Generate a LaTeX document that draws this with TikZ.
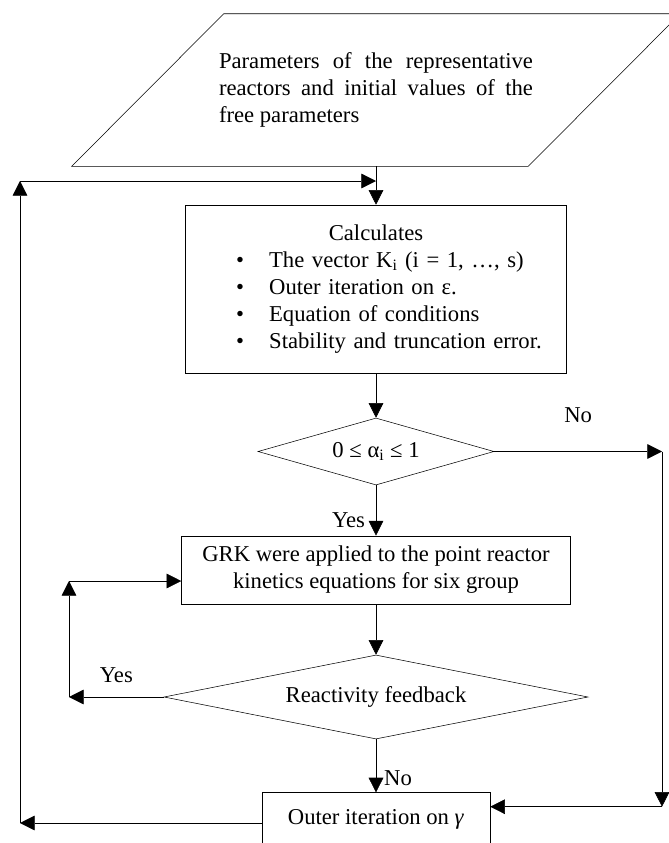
\documentclass[tikz,border=0pt]{standalone}
\usepackage{fontspec}
\setmainfont{Liberation Serif}
\usepackage{tikz}
\usetikzlibrary{shapes.geometric, arrows.meta, positioning}
\tikzset{
x=0.75pt, y=-0.75pt, % one unit is one pixel of the sketch, y grows downwards
->, % makes the connectors directed
>={Triangle[length=11pt,width=11pt]}, % filled arrow heads
line width=0.75pt,
font=\fontsize{17}{20.25}\selectfont, % the same size for every text
process/.style={draw, rectangle, inner sep=0pt, align=center}, % plain boxes
decision/.style={draw, diamond, inner sep=0pt}, % yes/no tests
datain/.style={rectangle, inner sep=0pt, minimum width=342pt, minimum height=114pt}, % input data
}
\newcommand{\calcitem}[1]{\hspace*{38pt}\makebox[24.75pt][l]{\textbullet}#1}

\begin{document}
\begin{tikzpicture}
  \useasboundingbox (0,0) rectangle (668,843);

  \node[datain, text width=235.5pt, align=justify] (params) at (376,90) {Parameters of the representative reactors and initial values of the free parameters};
  \draw[-] ([xshift=-57pt]params.south west) -- ([xshift=57pt]params.north west)
    -- ([xshift=57pt]params.north east) -- ([xshift=-57pt]params.south east) -- cycle;

  \node[process, text width=285.75pt, minimum height=126pt, align=left] (calc) at (376,289) {\makebox[\linewidth]{Calculates}\\
    \calcitem{The vector K\textsubscript{i} (i = 1, …, s)}\\
    \calcitem{Outer iteration on ε.}\\
    \calcitem{Equation of conditions}\\
    \calcitem{Stability and truncation error.}};
  \node[decision, aspect=3.5, minimum width=177pt, minimum height=50.25pt] (range) at (376,451.5) {0 ≤ α\textsubscript{i} ≤ 1};
  \node[process, minimum width=291.75pt, minimum height=51.25pt] (grk) at (376,570) {GRK were applied to the point reactor\\kinetics equations for six group};
  \node[decision, aspect=5, minimum width=318pt, minimum height=63pt] (feedback) at (376,697) {Reactivity feedback};
  \node[process, minimum width=171pt, minimum height=39.5pt] (outer) at (376,819) {Outer iteration on \textit{γ}};

  \coordinate (ltop) at (20,181);
  \coordinate (lbot) at (20,823);
  \coordinate (rtop) at (662,451.5);
  \coordinate (rbot) at (662,806.7);
  \coordinate (kbot) at (69,697);
  \coordinate (ktop) at (69,581);

  \draw (params.south) -- (calc.north);
  \draw (ltop) -- (ltop -| params.south);
  \draw (calc.south) -- (range.north);
  \draw (range.east) -- node[yshift=27pt]{No} (rtop);
  \draw (rtop) -- (rbot);
  \draw (rbot) -- (rbot -| outer.east);
  \draw (range.south) -- node[pos=.7, xshift=-20.6pt]{Yes} (grk.north);
  \draw (grk.south) -- (feedback.north);
  \draw (feedback.west) -- node[yshift=16.5pt]{Yes} (kbot);
  \draw (kbot) -- (ktop);
  \draw (ktop) -- (ktop -| grk.west);
  \draw (feedback.south) -- node[pos=.73, xshift=16.5pt]{No} (outer.north);
  \draw (outer.west |- lbot) -- (lbot);
  \draw (lbot) -- (ltop);
\end{tikzpicture}
\end{document}
